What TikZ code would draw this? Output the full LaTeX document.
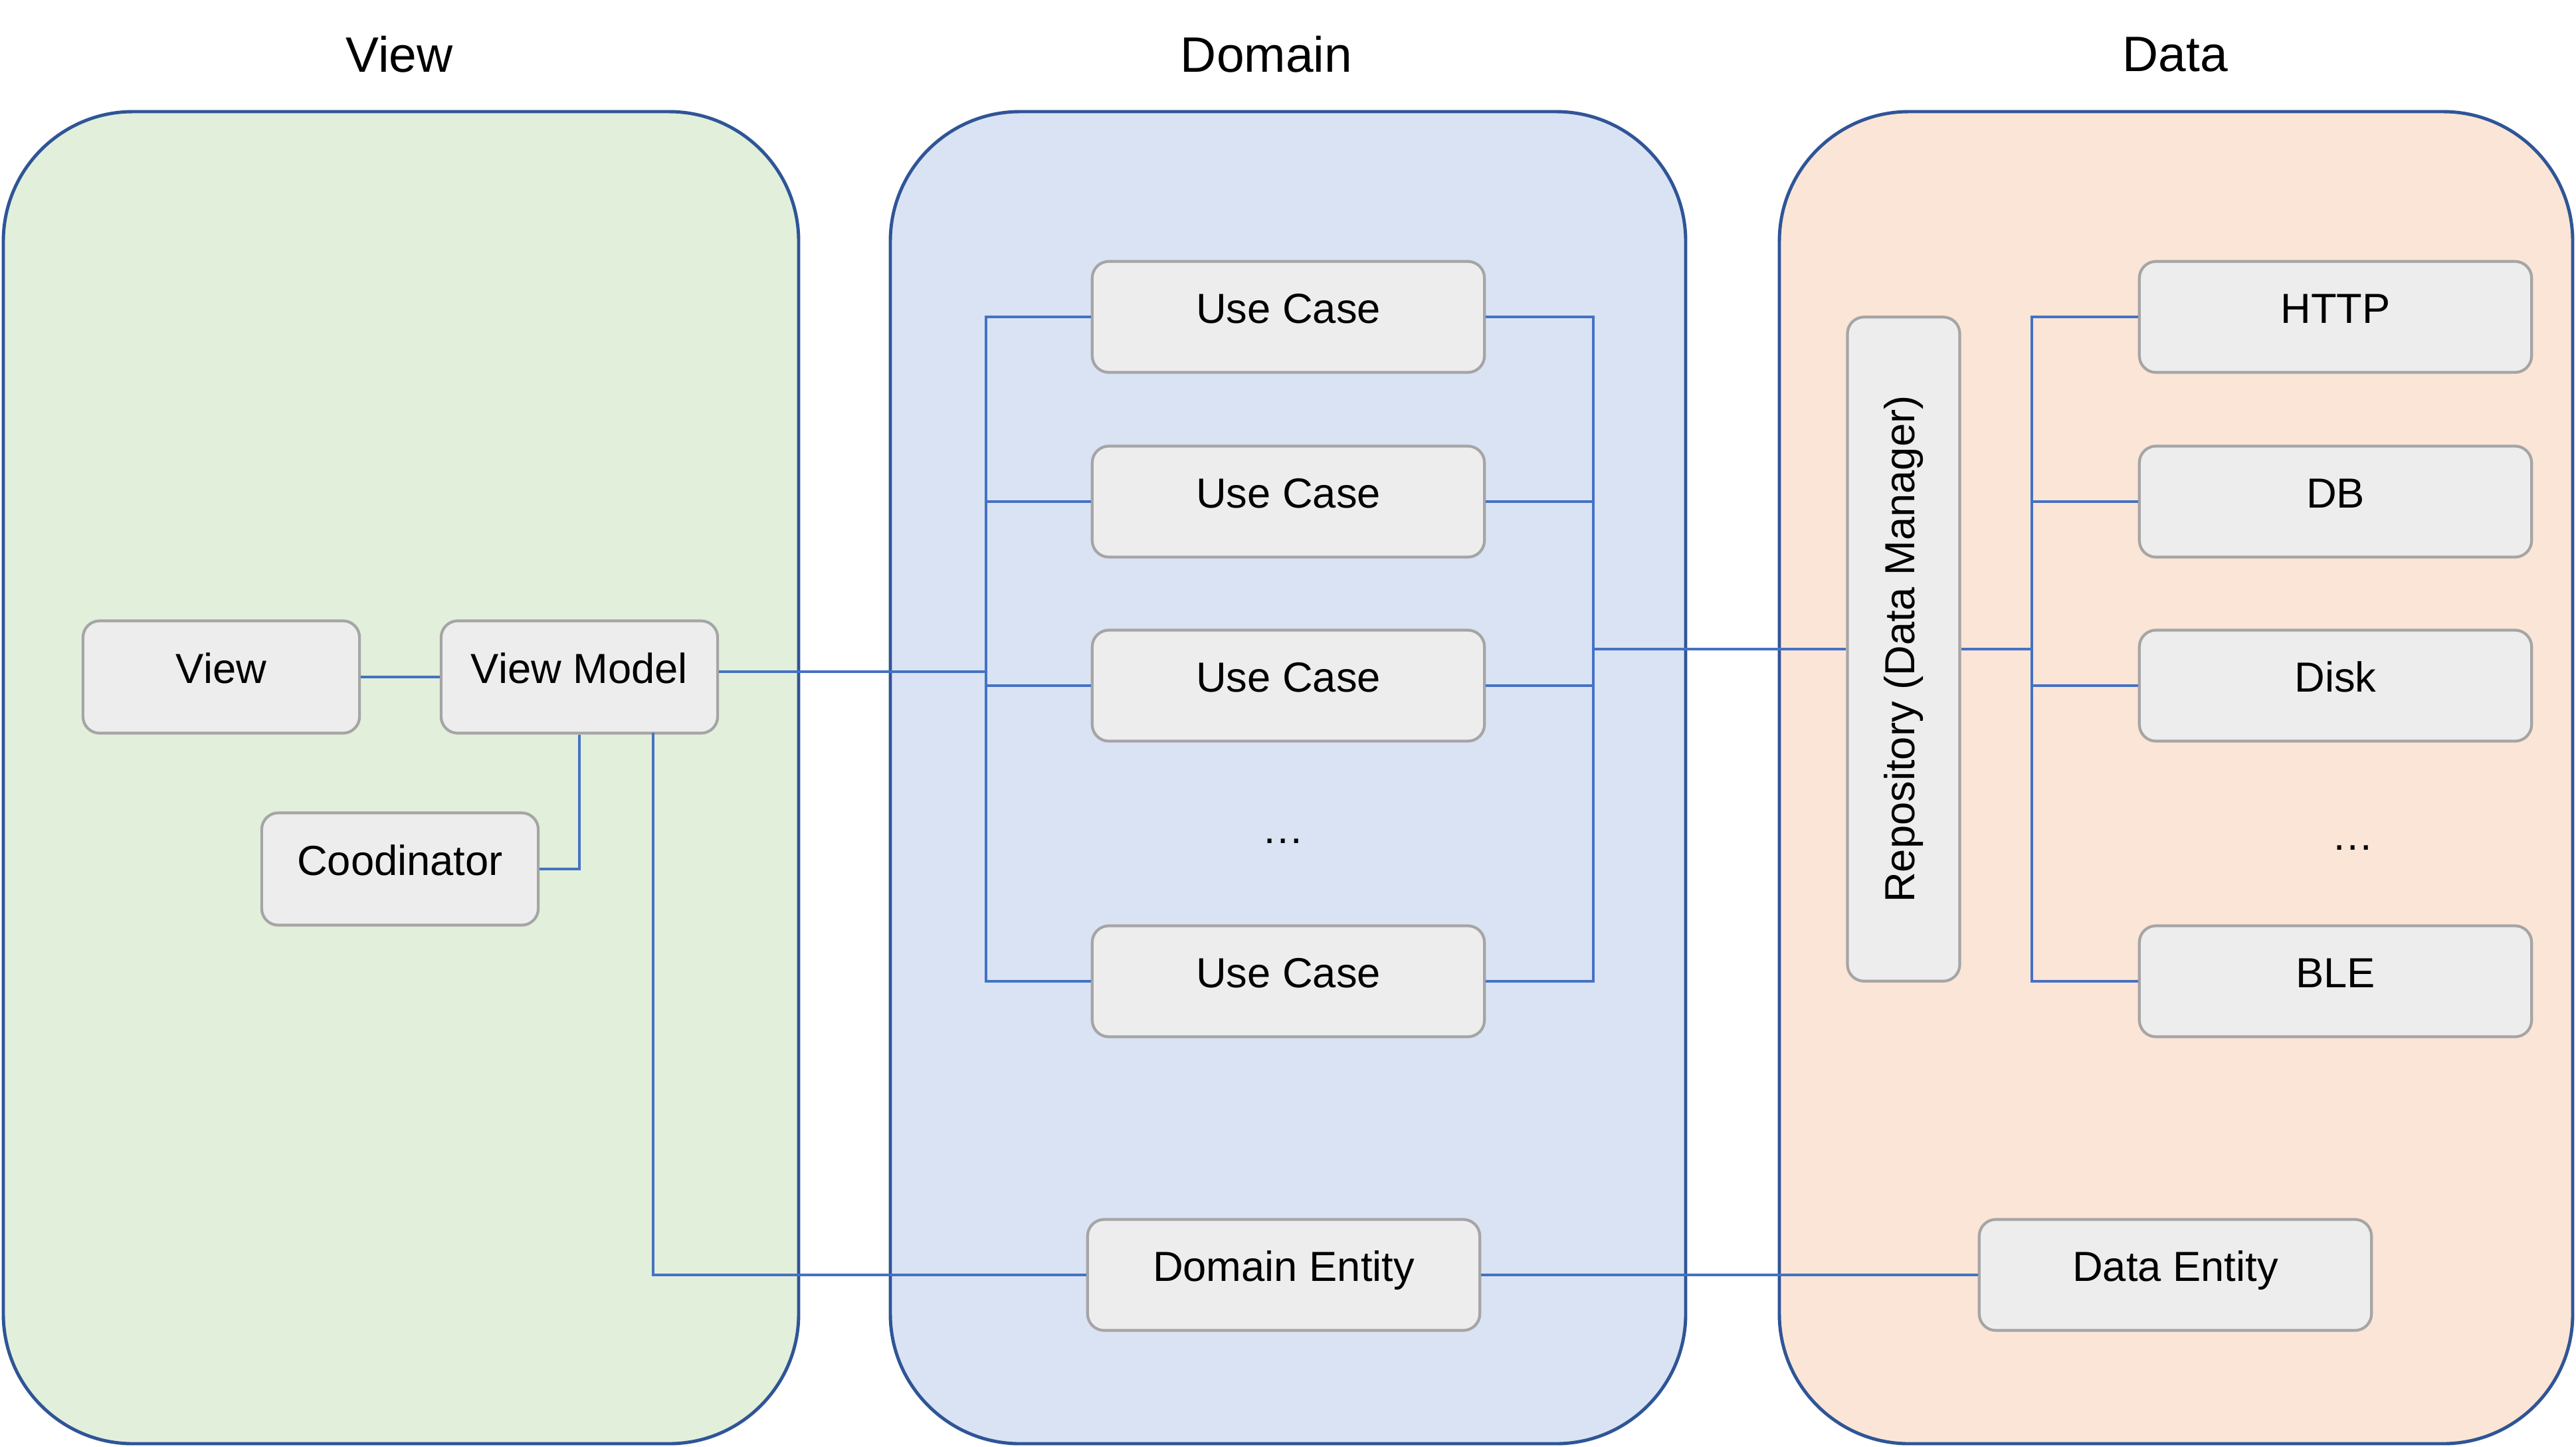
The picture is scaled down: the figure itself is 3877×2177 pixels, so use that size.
\documentclass[tikz,border=0pt]{standalone}
\usepackage{fontspec}
\setmainfont{Liberation Sans}
\begin{document}
\begin{tikzpicture}[x=0.01cm,y=-0.01cm,
  panelline/.style={draw=panelblue,line width=1.4pt,rounded corners=1.95cm},
  box/.style={draw=boxgray,fill=boxfill,line width=1.2pt,rounded corners=0.25cm,
    inner sep=0pt,text height=0.72em,text depth=0.16em,font=\fontsize{18}{21}\selectfont},
  wide/.style={box,minimum width=5.9cm,minimum height=1.67cm},
  narrow/.style={box,minimum width=4.16cm,minimum height=1.69cm},
  link/.style={draw=linkblue,line width=1.3pt},
  title/.style={font=\fontsize{21.3}{24}\selectfont},
  dots/.style={font=\fontsize{18}{21}\selectfont}]
\definecolor{panelblue}{HTML}{2F5597}
\definecolor{linkblue}{HTML}{4472C4}
\definecolor{boxgray}{HTML}{A5A5A5}
\definecolor{boxfill}{HTML}{EDEDED}
\definecolor{viewfill}{HTML}{E2EFDA}
\definecolor{domainfill}{HTML}{DAE3F3}
\definecolor{datafill}{HTML}{FBE5D6}
\useasboundingbox (0,0) rectangle (3877,2177);

% layer panels
\path[panelline,fill=viewfill] (5,168) rectangle (1202,2173);
\path[panelline,fill=domainfill] (1340,168) rectangle (2537,2173);
\path[panelline,fill=datafill] (2678,168) rectangle (3872,2173);

\node[title] (tview) at (601,82) {View};
\node[title] (tdomain) at (1906,82) {Domain};
\node[title] (tdata) at (3274,82) {Data};

% view layer
\node[narrow] (view) at (333,1019) {View};
\node[narrow] (vm) at (872,1019) {View Model};
\node[narrow] (coord) at (602,1308) {Coodinator};

% domain layer
\node[wide] (uc1) at (1939,477) {Use Case};
\node[wide] (uc2) at (1939,755) {Use Case};
\node[wide] (uc3) at (1939,1032) {Use Case};
\node[dots] (ucdots) at (1931,1266) {…};
\node[wide] (uc4) at (1939,1477) {Use Case};
\node[wide] (dent) at (1932,1919) {Domain Entity};

% data layer
\node[box,minimum width=1.69cm,minimum height=9.99cm] (repo) at (2865,977) {};
\node[rotate=90,font=\fontsize{18}{21}\selectfont] (repotext) at (repo.center) {Repository (Data Manager)};
\node[wide] (http) at (3515,477) {HTTP};
\node[wide] (db) at (3515,755) {DB};
\node[wide] (disk) at (3515,1032) {Disk};
\node[dots] (datadots) at (3541,1276) {…};
\node[wide] (ble) at (3515,1477) {BLE};
\node[wide] (dataent) at (3274,1919) {Data Entity};

% bus junction points
\coordinate (vmout) at ([yshift=0.08cm]vm.east);
\coordinate (lbus) at (1484,1011);
\coordinate (rbus) at (2398,977);
\coordinate (dbus) at (3058,977);
\coordinate (vmdrop) at (983,1103);

% view connectors
\draw[link] (view.east) -- (vm.west);
\draw[link] (vm.south) |- (coord.east);
\draw[link] (vmdrop) |- (dent.west);
\draw[link] (vmout) -- (vmout -| lbus);
% domain buses
\draw[link] (uc1.west) -| (lbus) |- (uc4.west);
\draw[link] (uc2.west) -- (uc2.west -| lbus);
\draw[link] (uc3.west) -- (uc3.west -| lbus);
\draw[link] (uc1.east) -| (rbus) |- (uc4.east);
\draw[link] (uc2.east) -- (uc2.east -| rbus);
\draw[link] (uc3.east) -- (uc3.east -| rbus);
\draw[link] (rbus) -- (repo.west);
% data bus
\draw[link] (repo.east) -- (dbus);
\draw[link] (http.west) -| (dbus) |- (ble.west);
\draw[link] (db.west) -- (db.west -| dbus);
\draw[link] (disk.west) -- (disk.west -| dbus);
% entities
\draw[link] (dent.east) -- (dataent.west);
\end{tikzpicture}
\end{document}
